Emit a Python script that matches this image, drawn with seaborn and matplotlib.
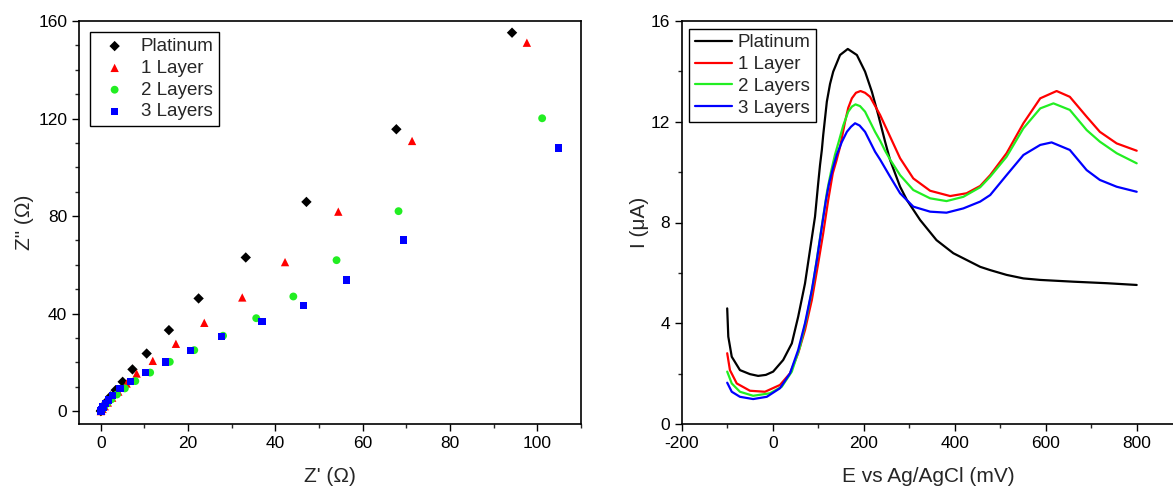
import numpy as np
import pandas as pd
import matplotlib
matplotlib.use("Agg")
import matplotlib.pyplot as plt
import seaborn as sns
from matplotlib.ticker import MultipleLocator

# ---------------- Nyquist data ----------------
pt_zre = [0.0, 0.1, 0.4, 0.8, 1.4, 2.2, 3.4, 5.0, 7.25, 10.5, 15.6, 22.4, 33.2, 47.1, 67.7, 94.2]
pt_zim = [0.0, 0.3, 1.2, 2.5, 4.0, 6.0, 8.6, 12.0, 17.1, 23.6, 33.2, 46.2, 63.0, 85.8, 115.6, 155.2]

l1_zre = [0.0, 0.1, 0.4, 0.9, 1.6, 2.6, 4.0, 5.9, 8.2, 11.9, 17.2, 23.7, 32.4, 42.2, 54.4, 71.3, 97.6]
l1_zim = [0.0, 0.2, 0.9, 2.0, 3.5, 5.5, 8.0, 11.3, 15.4, 20.6, 27.6, 36.2, 46.6, 61.1, 81.8, 110.8, 151.1]

l2_zre = [0.05, 0.3, 0.8, 1.5, 2.4, 3.7, 5.5, 7.9, 11.3, 15.8, 21.4, 28.0, 35.6, 44.1, 54.0, 68.2, 101.1]
l2_zim = [0.1, 0.6, 1.8, 3.2, 4.8, 6.8, 9.3, 12.3, 15.8, 20.2, 25.0, 30.9, 38.1, 47.0, 61.9, 82.0, 120.1]

l3_zre = [0.0, 0.2, 0.5, 1.0, 1.7, 2.7, 4.4, 6.8, 10.3, 14.8, 20.6, 27.7, 36.9, 46.4, 56.3, 69.4, 104.9]
l3_zim = [0.1, 0.7, 1.7, 3.0, 4.5, 6.4, 9.2, 12.2, 15.8, 20.1, 24.9, 30.6, 36.7, 43.3, 53.7, 70.2, 107.9]

# ---------------- CV data ----------------
pt_E = [-100, -97.6, -90, -72, -50, -32, -15, 1, 23, 42, 56, 71, 82, 93, 100, 104, 108, 111, 119, 126,
        133, 148, 165, 185, 203, 218, 232, 247, 258, 280, 295, 324, 360, 397, 456, 478, 514, 551, 588,
        661, 734, 800]
pt_I = [4.59, 3.47, 2.67, 2.14, 1.98, 1.91, 1.95, 2.08, 2.54, 3.20, 4.26, 5.58, 6.91, 8.23, 9.56, 10.28,
        10.88, 11.47, 12.80, 13.5, 13.99, 14.65, 14.89, 14.65, 13.99, 13.19, 12.27, 11.21, 10.48, 9.42,
        8.89, 8.10, 7.30, 6.78, 6.24, 6.11, 5.92, 5.78, 5.72, 5.65, 5.59, 5.52]

l1_E = [-100, -94, -79, -50, -17, 16, 38, 56, 71, 86, 100, 111, 122, 132, 140, 148, 159, 166, 174, 183,
        193, 203, 214, 236, 258, 280, 309, 346, 390, 426, 456, 478, 514, 551, 588, 624, 653, 690, 719,
        756, 800]
l1_I = [2.81, 2.14, 1.61, 1.32, 1.28, 1.55, 2.01, 2.81, 3.73, 4.92, 6.38, 7.57, 8.89, 9.95, 10.45, 11.0,
        12.0, 12.55, 12.93, 13.15, 13.22, 13.15, 12.99, 12.27, 11.41, 10.55, 9.75, 9.26, 9.05, 9.16, 9.45,
        9.88, 10.75, 11.94, 12.93, 13.22, 12.99, 12.2, 11.6, 11.14, 10.85]

l2_E = [-100, -90, -72, -43, -6, 20, 42, 60, 75, 89, 100, 111, 120, 128, 137, 145, 155, 166, 174, 182,
        192, 203, 225, 236, 247, 258, 280, 309, 346, 382, 419, 456, 478, 514, 551, 588, 617, 653, 690,
        719, 756, 800]
l2_I = [2.08, 1.61, 1.28, 1.12, 1.22, 1.48, 2.08, 3.07, 4.26, 5.58, 6.91, 8.23, 9.29, 10.0, 10.7, 11.2,
        11.85, 12.4, 12.6, 12.69, 12.62, 12.40, 11.60, 11.25, 10.85, 10.5, 9.88, 9.29, 8.96, 8.85, 9.02,
        9.40, 9.82, 10.61, 11.74, 12.53, 12.73, 12.47, 11.67, 11.21, 10.75, 10.35]

l3_E = [-100, -90, -72, -43, -13, 16, 38, 56, 71, 86, 97, 108, 117, 124, 133, 141, 152, 163, 172, 181,
        191, 203, 225, 236, 258, 280, 309, 346, 382, 419, 456, 478, 514, 551, 588, 613, 653, 690, 719,
        756, 800]
l3_I = [1.64, 1.28, 1.08, 0.99, 1.08, 1.42, 2.01, 2.94, 4.0, 5.32, 6.51, 7.83, 8.89, 9.56, 10.2, 10.7,
        11.2, 11.6, 11.8, 11.94, 11.85, 11.60, 10.81, 10.5, 9.82, 9.16, 8.63, 8.43, 8.39, 8.56, 8.83,
        9.09, 9.88, 10.68, 11.08, 11.18, 10.88, 10.08, 9.69, 9.42, 9.22]

labels = ["Platinum", "1 Layer", "2 Layers", "3 Layers"]
colors = ["#000000", "#ff0000", "#22ee22", "#0000ff"]
markers = ["D", "^", "o", "s"]
msizes = [28, 36, 32, 28]

sns.set_theme(style="ticks")
plt.rcParams["font.family"] = ["Liberation Sans", "DejaVu Sans"]
plt.rcParams["axes.unicode_minus"] = False

fig = plt.figure(figsize=(11.73, 4.87), dpi=100)
ax1 = fig.add_axes([79 / 1173, 63 / 487, 502 / 1173, 403 / 487])
ax2 = fig.add_axes([681.7 / 1173, 63 / 487, 494 / 1173, 403 / 487])

nyq = [(pt_zre, pt_zim), (l1_zre, l1_zim), (l2_zre, l2_zim), (l3_zre, l3_zim)]
for (zx, zy), lab, c, m, s in zip(nyq, labels, colors, markers, msizes):
    df = pd.DataFrame({"x": zx, "y": zy})
    sns.scatterplot(data=df, x="x", y="y", ax=ax1, color=c, marker=m, s=s,
                    edgecolor="none", linewidth=0, label=lab)

ax1.set_xlim(-5, 110)
ax1.set_ylim(-5.3, 160)
ax1.xaxis.set_major_locator(MultipleLocator(20))
ax1.xaxis.set_minor_locator(MultipleLocator(10))
ax1.yaxis.set_major_locator(MultipleLocator(40))
ax1.yaxis.set_minor_locator(MultipleLocator(10))
ax1.set_xlabel("Z' (Ω)", fontsize=15, labelpad=12)
ax1.set_ylabel('Z" (Ω)', fontsize=15, labelpad=3)

cv = [(pt_E, pt_I), (l1_E, l1_I), (l2_E, l2_I), (l3_E, l3_I)]
for (ex, iy), lab, c in zip(cv, labels, colors):
    df = pd.DataFrame({"E": ex, "I": iy})
    sns.lineplot(data=df, x="E", y="I", ax=ax2, color=c, linewidth=1.6, label=lab, sort=False)

ax2.set_xlim(-200, 200 + 494 / 0.455 - 400)
ax2.set_ylim(0, 16)
ax2.xaxis.set_major_locator(MultipleLocator(200))
ax2.xaxis.set_minor_locator(MultipleLocator(100))
ax2.yaxis.set_major_locator(MultipleLocator(4))
ax2.yaxis.set_minor_locator(MultipleLocator(2))
ax2.set_xlabel("E vs Ag/AgCl (mV)", fontsize=15, labelpad=12)
ax2.set_ylabel("I (μA)", fontsize=15, labelpad=1)

for ax in (ax1, ax2):
    for sp in ax.spines.values():
        sp.set_visible(True)
        sp.set_linewidth(1.2)
        sp.set_color("black")
    ax.tick_params(which="major", direction="out", length=5, width=1, labelsize=12.5,
                   top=False, right=False, colors="black")
    ax.tick_params(which="minor", direction="out", length=3, width=1, top=False, right=False)

leg1 = ax1.legend(loc="upper left", fontsize=13.5, frameon=True, fancybox=False,
                  edgecolor="black", framealpha=1, borderpad=0.3, labelspacing=0.25,
                  handletextpad=0.4, borderaxespad=0.6, markerscale=1.0)
leg1.get_frame().set_linewidth(1.0)
leg2 = ax2.legend(loc="upper left", fontsize=13.5, frameon=True, fancybox=False,
                  edgecolor="black", framealpha=1, borderpad=0.3, labelspacing=0.25,
                  handletextpad=0.3, handlelength=2.0, borderaxespad=0.4)
leg2.get_frame().set_linewidth(1.0)

fig.savefig("out.png", dpi=100)
